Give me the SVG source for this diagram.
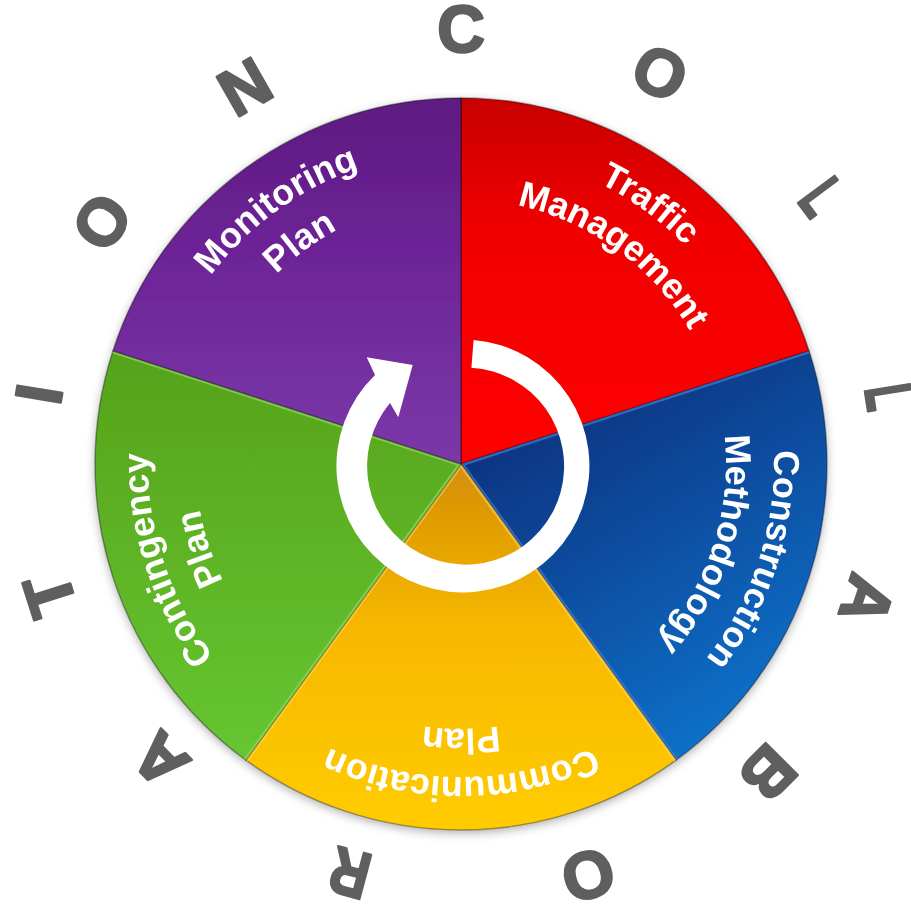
<svg xmlns="http://www.w3.org/2000/svg" width="911" height="908" viewBox="0 0 911 908">
  <defs>
    <style>
      .seg { stroke: rgba(0,0,0,0.35); stroke-width: 1.5; stroke-linejoin: round; }
      .bevel { fill: none; stroke-width: 5; stroke-linejoin: round; }
      .lbl { font-family: "Liberation Sans", Arial, sans-serif; font-weight: bold; font-size: 36px; fill: #ffffff; }
      .ring { font-family: "Liberation Sans", Arial, sans-serif; font-weight: bold; font-size: 66px; fill: #5f5f5f; stroke: #5f5f5f; stroke-width: 2.5; stroke-linejoin: round; text-anchor: middle; }
    </style>
    <filter id="shadow" x="-10%" y="-10%" width="120%" height="120%">
      <feDropShadow dx="0" dy="3" stdDeviation="5" flood-color="#000" flood-opacity="0.3"/>
    </filter>
    <linearGradient id="gRed" gradientUnits="userSpaceOnUse" x1="0" y1="98" x2="0" y2="464">
      <stop offset="0" stop-color="#c80000"/>
      <stop offset="0.35" stop-color="#f00000"/>
      <stop offset="1" stop-color="#ff0000"/>
    </linearGradient>
    <linearGradient id="gPurple" gradientUnits="userSpaceOnUse" x1="0" y1="98" x2="0" y2="464">
      <stop offset="0" stop-color="#5e1a80"/>
      <stop offset="0.4" stop-color="#6c2396"/>
      <stop offset="1" stop-color="#7b38a8"/>
    </linearGradient>
    <linearGradient id="gBlue" gradientUnits="userSpaceOnUse" x1="520" y1="400" x2="720" y2="730">
      <stop offset="0" stop-color="#08307c"/>
      <stop offset="0.5" stop-color="#0a4fa2"/>
      <stop offset="1" stop-color="#1070c8"/>
    </linearGradient>
    <linearGradient id="gYellow" gradientUnits="userSpaceOnUse" x1="0" y1="464" x2="0" y2="830">
      <stop offset="0" stop-color="#d48e08"/>
      <stop offset="0.45" stop-color="#f7b800"/>
      <stop offset="1" stop-color="#ffcc00"/>
    </linearGradient>
    <linearGradient id="gGreen" gradientUnits="userSpaceOnUse" x1="0" y1="350" x2="0" y2="760">
      <stop offset="0" stop-color="#56a21a"/>
      <stop offset="1" stop-color="#66c631"/>
    </linearGradient>
    <clipPath id="cBlue"><path d="M461,464 L809.1,350.9 A366,366 0 0 1 676.1,760.1 Z"/></clipPath>
    <clipPath id="cYellow"><path d="M461,464 L676.1,760.1 A366,366 0 0 1 245.9,760.1 Z"/></clipPath>
    <clipPath id="cGreen"><path d="M461,464 L245.9,760.1 A366,366 0 0 1 112.9,350.9 Z"/></clipPath>
    <path id="pTraffic" d="M286.0,204.5 A313,313 0 0 1 761.9,550.3"/>
    <path id="pManagement" d="M312.8,244.4 A265,265 0 0 1 715.7,537.0"/>
    <path id="pConstruction" d="M653.7,217.4 A313,313 0 0 1 471.9,776.8"/>
    <path id="pMethodology" d="M624.2,255.2 A265,265 0 0 1 470.2,728.8"/>
    <path id="pCommunication" d="M755.1,571.1 A313,313 0 0 1 166.9,571.1"/>
    <path id="pCommPlan" d="M710.0,554.6 A265,265 0 0 1 212.0,554.6"/>
    <path id="pContingency" d="M450.1,776.8 A313,313 0 0 1 268.3,217.4"/>
    <path id="pContPlan" d="M451.8,728.8 A265,265 0 0 1 297.8,255.2"/>
    <path id="pMonitoring" d="M160.1,550.3 A313,313 0 0 1 636.0,204.5"/>
    <path id="pMonPlan" d="M206.3,537.0 A265,265 0 0 1 609.2,244.4"/>
  </defs>

  <rect x="0" y="0" width="911" height="908" fill="#ffffff"/>

  <g id="pie" filter="url(#shadow)">
    <g id="traffic-management">
      <path class="seg" fill="url(#gRed)" d="M461,464 L461,98 A366,366 0 0 1 809.1,350.9 Z"/>
      <text class="lbl"><textPath href="#pTraffic" startOffset="50%" text-anchor="middle">Traffic</textPath></text>
      <text class="lbl"><textPath href="#pManagement" startOffset="50%" text-anchor="middle">Management</textPath></text>
    </g>
    <g id="construction-methodology">
      <path class="seg" fill="url(#gBlue)" d="M461,464 L809.1,350.9 A366,366 0 0 1 676.1,760.1 Z"/>
      <path class="bevel" stroke="#3f7fd8" stroke-opacity="0.7" clip-path="url(#cBlue)" d="M809.1,350.9 L461,464 L676.1,760.1"/>
      <text class="lbl"><textPath href="#pConstruction" startOffset="50%" text-anchor="middle">Construction</textPath></text>
      <text class="lbl"><textPath href="#pMethodology" startOffset="50%" text-anchor="middle">Methodology</textPath></text>
    </g>
    <g id="communication-plan">
      <path class="seg" fill="url(#gYellow)" d="M461,464 L676.1,760.1 A366,366 0 0 1 245.9,760.1 Z"/>
      <path class="bevel" stroke="#ffd860" stroke-opacity="0.55" clip-path="url(#cYellow)" d="M676.1,760.1 L461,464 L245.9,760.1"/>
      <text class="lbl"><textPath href="#pCommunication" startOffset="50%" text-anchor="middle">Communication</textPath></text>
      <text class="lbl"><textPath href="#pCommPlan" startOffset="50%" text-anchor="middle">Plan</textPath></text>
    </g>
    <g id="contingency-plan">
      <path class="seg" fill="url(#gGreen)" d="M461,464 L245.9,760.1 A366,366 0 0 1 112.9,350.9 Z"/>
      <path class="bevel" stroke="#8fd85c" stroke-opacity="0.7" clip-path="url(#cGreen)" d="M245.9,760.1 L461,464 L112.9,350.9"/>
      <text class="lbl"><textPath href="#pContingency" startOffset="50%" text-anchor="middle">Contingency</textPath></text>
      <text class="lbl"><textPath href="#pContPlan" startOffset="50%" text-anchor="middle">Plan</textPath></text>
    </g>
    <g id="monitoring-plan">
      <path class="seg" fill="url(#gPurple)" d="M461,464 L112.9,350.9 A366,366 0 0 1 461,98 Z"/>
      <text class="lbl"><textPath href="#pMonitoring" startOffset="50%" text-anchor="middle">Monitoring</textPath></text>
      <text class="lbl"><textPath href="#pMonPlan" startOffset="50%" text-anchor="middle">Plan</textPath></text>
    </g>
  </g>

  <g id="connectors">
    <path id="cycle-arrow" fill="#ffffff" d="M473.6,339.9 A126.5,126.5 0 1 1 375,375 L366.7,357.3 L412.7,365 L398.3,417.3 L390,403 A98.5,98.5 0 1 0 471.4,367.8 Z"/>
  </g>

  <g id="collaboration">
    <text class="ring" transform="translate(461,29) rotate(0)" y="22.7">C</text>
    <text class="ring" transform="translate(660,73) rotate(27)" y="22.7">O</text>
    <text class="ring" transform="translate(822,197) rotate(53.4) scale(0.62,1)" y="22.7">L</text>
    <text class="ring" transform="translate(889,397) rotate(81) scale(0.62,1)" y="22.7">L</text>
    <text class="ring" transform="translate(867,600) rotate(108.5)" y="22.7">A</text>
    <text class="ring" transform="translate(768,773) rotate(135)" y="22.7">B</text>
    <text class="ring" transform="translate(588,875) rotate(162)" y="22.7">O</text>
    <text class="ring" transform="translate(350,873) rotate(195) scale(0.82,1)" y="22.7">R</text>
    <text class="ring" transform="translate(160,760) rotate(225.5)" y="22.7">A</text>
    <text class="ring" transform="translate(50,595) rotate(252.3)" y="22.7">T</text>
    <text class="ring" transform="translate(39,394) rotate(279.4)" y="22.7">I</text>
    <text class="ring" transform="translate(102,222) rotate(304)" y="22.7">O</text>
    <text class="ring" transform="translate(245,87) rotate(330.2)" y="22.7">N</text>
  </g>
</svg>
